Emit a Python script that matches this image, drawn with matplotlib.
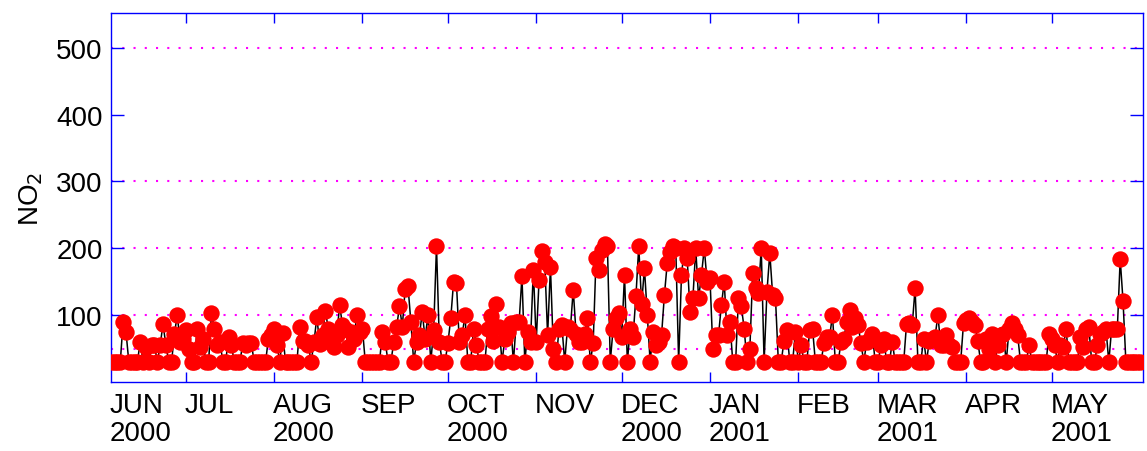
import pandas as pd
import matplotlib
matplotlib.use('Agg')
import matplotlib.pyplot as plt
import matplotlib.dates as mdates

plt.rcParams['font.family'] = ['Liberation Sans', 'DejaVu Sans']

# daily NO2 from 5 Jun 2000, one list per month (30 = detection floor)
jun_2000 = [30, 30, 30, 30, 90, 75, 30, 30, 30, 30, 60, 30, 52, 30, 55, 55, 30, 55, 87, 55,
            30, 30, 72, 100, 60, 65]
jul_2000 = [78, 50, 30, 30, 80, 52, 65, 30, 30, 103, 80, 55, 60, 30, 30, 68, 55, 30, 30, 30,
            58, 55, 58, 58, 30, 30, 30, 30, 30, 65, 70]
aug_2000 = [80, 55, 30, 73, 30, 30, 30, 30, 30, 82, 62, 62, 55, 30, 60, 97, 57, 70, 106, 80,
            60, 52, 70, 115, 85, 80, 52, 75, 65, 100, 75]
sep_2000 = [80, 30, 30, 30, 30, 30, 30, 75, 60, 30, 30, 60, 82, 113, 83, 139, 143, 90, 30, 60,
            70, 104, 65, 100, 30, 78, 203, 60, 30, 30]
oct_2000 = [58, 95, 150, 148, 60, 70, 100, 30, 30, 80, 55, 30, 30, 30, 80, 98, 62, 117, 82, 30,
            65, 75, 88, 30, 90, 90, 158, 30, 75, 60, 168]
nov_2000 = [60, 152, 196, 180, 70, 172, 50, 30, 80, 85, 30, 82, 80, 138, 72, 60, 60, 72, 95, 30,
            58, 185, 168, 198, 206, 203, 30, 80, 95, 103]
dec_2000 = [68, 160, 30, 80, 68, 128, 203, 117, 170, 100, 30, 75, 55, 60, 70, 130, 178, 195, 203, 200,
            30, 160, 200, 185, 105, 125, 200, 125, 160, 200, 150]
jan_2001 = [155, 50, 70, 70, 115, 150, 70, 90, 30, 30, 125, 113, 80, 30, 50, 163, 140, 133, 200, 30,
            135, 193, 130, 125, 30, 30, 62, 78, 30, 30, 75]
feb_2001 = [30, 55, 30, 30, 78, 80, 30, 30, 30, 58, 68, 68, 100, 30, 30, 60, 65, 90, 108, 82,
            95, 85, 58, 30, 60, 65, 72, 30]
mar_2001 = [30, 55, 65, 30, 30, 60, 30, 30, 30, 30, 87, 88, 85, 140, 30, 30, 65, 30, 62, 65,
            67, 100, 55, 55, 70, 55, 52, 30, 30, 30, 88]
apr_2001 = [92, 95, 90, 85, 62, 30, 30, 65, 50, 72, 30, 55, 70, 72, 30, 80, 88, 80, 70, 30,
            30, 30, 55, 30, 30, 30, 30, 30, 30, 72]
may_2001 = [65, 55, 30, 55, 52, 80, 30, 30, 30, 30, 68, 52, 80, 82, 30, 30, 55, 72, 75, 80,
            30, 80, 80, 80, 184, 121, 30, 30, 30, 30, 30, 30]

no2 = (jun_2000 + jul_2000 + aug_2000 + sep_2000 + oct_2000 + nov_2000 + dec_2000
       + jan_2001 + feb_2001 + mar_2001 + apr_2001 + may_2001)
dates = pd.date_range('2000-06-05', periods=len(no2), freq='D')

guide_levels = [50, 100, 200, 300, 500]
month_labels = ['JUN\n2000', 'JUL', 'AUG\n2000', 'SEP', 'OCT\n2000', 'NOV', 'DEC\n2000',
                'JAN\n2001', 'FEB', 'MAR\n2001', 'APR', 'MAY\n2001']
month_starts = pd.date_range('2000-07-01', '2001-05-01', freq='MS')

fig = plt.figure(figsize=(11.47, 4.52), dpi=100)
ax = fig.add_axes([0.0968, 0.1527, 0.8997, 0.8163])

for lvl in guide_levels:
    ax.axhline(lvl, color='magenta', lw=1.5, linestyle=(0, (1, 4.4)), zorder=1)

ax.plot(dates, no2, color='black', lw=1.1, zorder=2)
ax.plot(dates, no2, 'o', color='red', markersize=11.8, markeredgewidth=0, zorder=3)

x0 = pd.Timestamp('2000-06-04 18:00')
x1 = pd.Timestamp('2001-06-02')
ax.set_xlim(x0, x1)
ax.set_ylim(0, 552)

ax.set_yticks([100, 200, 300, 400, 500])
ax.set_xticks(month_starts)
ax.set_xticklabels([])
ax.tick_params(axis='y', direction='in', length=9.5, width=1, color='blue',
               left=True, right=True, labelsize=20, pad=6)
ax.tick_params(axis='x', direction='in', length=7.5, width=1, color='blue',
               top=True, bottom=True)
for s in ax.spines.values():
    s.set_color('blue')
    s.set_linewidth(1.0)

# month labels, left aligned at each month start
label_pos = [x0] + list(month_starts)
for pos, txt in zip(label_pos, month_labels):
    ax.annotate(txt, xy=(mdates.date2num(pos), 0), xycoords=('data', 'axes fraction'),
                xytext=(-1, -7), textcoords='offset points', ha='left', va='top',
                fontsize=20, linespacing=1.1)

ax.set_ylabel('NO$_2$', fontsize=20, labelpad=8)

fig.savefig('out.png', dpi=100)
